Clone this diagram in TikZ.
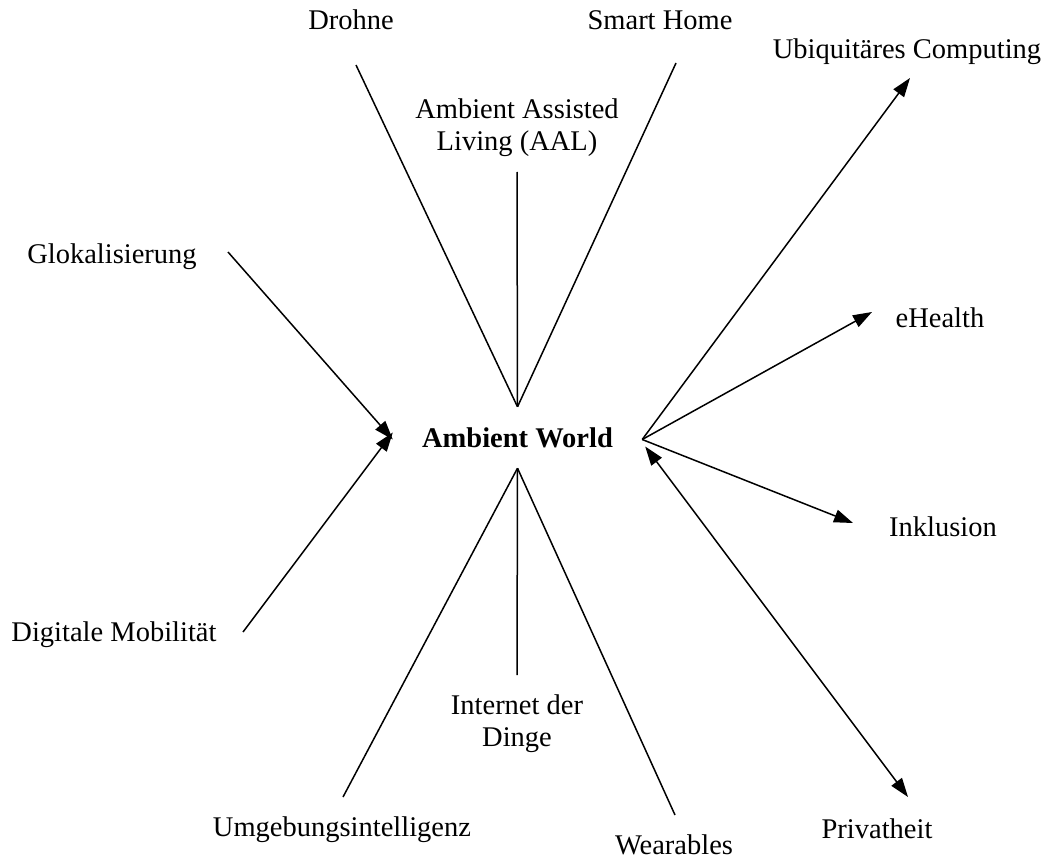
\documentclass[tikz,border=0pt]{standalone}
\usepackage{fontspec}
\setmainfont{Liberation Serif}
\usetikzlibrary{arrows.meta,calc}
\begin{document}
\begin{tikzpicture}[x=1pt,y=-1pt,
  lbl/.style={inner sep=0pt,align=center,font=\fontsize{28.5}{32}\selectfont},
  hub/.style={inner sep=0pt,minimum width=249pt,minimum height=61pt,font=\fontsize{28.5}{32}\selectfont\bfseries},
  conn/.style={line width=1.5pt,black},
  tip/.style={-{Triangle[length=19pt,width=13pt]}},
  tips/.style={{Triangle[length=19pt,width=13pt]}-{Triangle[length=19pt,width=13pt]}}]
\useasboundingbox (0,0) rectangle (1051,861);
\node[hub] (aw) at (517.5,437.5) {Ambient World};
\node[lbl] (drohne) at (351,20) {Drohne};
\node[lbl] (smart) at (660,20) {Smart Home};
\node[lbl] (aal) at (517,128) {Ambient Assisted\\Living (AAL)};
\node[lbl] (ubiq) at (907,52) {Ubiquitäres Computing};
\node[lbl] (glok) at (112,257) {Glokalisierung};
\node[lbl] (ehealth) at (940,318) {eHealth};
\node[lbl] (inkl) at (943,527) {Inklusion};
\node[lbl] (digi) at (114,635) {Digitale Mobilität};
\node[lbl] (iot) at (517,724) {Internet der\\Dinge};
\node[lbl] (umg) at (342,830) {Umgebungsintelligenz};
\node[lbl] (wear) at (674,845) {Wearables};
\node[lbl] (priv) at (877,829) {Privatheit};
% undirected lines
\draw[conn] ([shift={(5,45)}]drohne.center) -- (aw.north);
\draw[conn] ([shift={(16,43)}]smart.center) -- (aw.north);
\draw[conn] ([shift={(0,44)}]aal.center) -- (aw.north);
\draw[conn] ([shift={(1,-33)}]umg.center) -- (aw.south);
\draw[conn] ([shift={(0,-49)}]iot.center) -- (aw.south);
\draw[conn] ([shift={(1,-30)}]wear.center) -- (aw.south);
% arrows in
\draw[conn,tip] ([shift={(116,-5)}]glok.center) -- ([yshift=-2]aw.west);
\draw[conn,tip] ([shift={(129,-3)}]digi.center) -- ([yshift=5]aw.west);
% arrows out
\draw[conn,tip] ([yshift=-2]aw.east) -- ([shift={(3,26)}]ubiq.center);
\draw[conn,tip] ([yshift=-2]aw.east) -- ([shift={(-68,-6)}]ehealth.center);
\draw[conn,tip] ([yshift=-2]aw.east) -- ([shift={(-90,-4)}]inkl.center);
\draw[conn,tips] ([shift={(3,9)}]aw.east) -- ([shift={(31,-32)}]priv.center);
\end{tikzpicture}
\end{document}
